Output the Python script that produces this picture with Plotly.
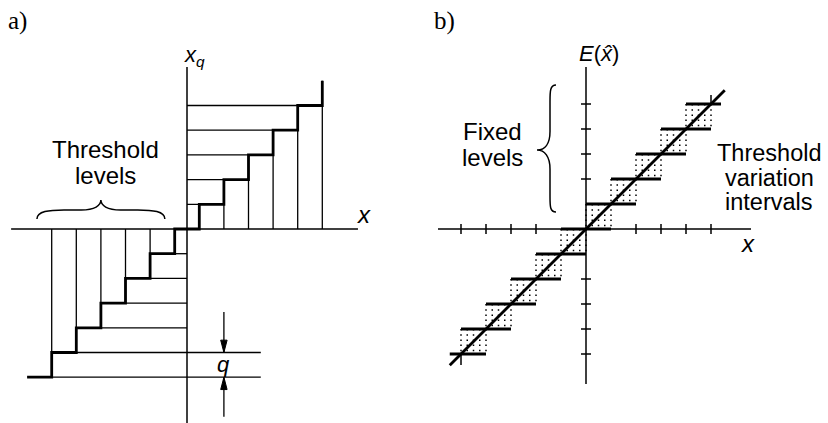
import plotly.graph_objects as go

# ---------------- data ----------------
# panel a: mid-tread uniform quantizer (units of q)
thresholds_a = [-5.5, -4.5, -3.5, -2.5, -1.5, -0.5, 0.5, 1.5, 2.5, 3.5, 4.5, 5.5]
levels_a = [-6, -5, -4, -3, -2, -1, 0, 1, 2, 3, 4, 5, 6]
stair_start_a = -6.5
q_lines_right = 3.0
q_levels = [-5, -6]
q_arrow_x = 1.5
q_arrows = [(-5, -3.36), (-6, -7.6)]   # (tip level, tail)
axis_a_x = [-7.15, 6.95]
axis_a_y = [-8.0, 6.56]

# panel b: expected value with threshold variation
levels_b = [-5, -4, -3, -2, -1, 0, 1, 2, 3, 4, 5]
step_halfwidth_b = 1.0
diag_b = [-5.45, 5.55]
ticks_b = [-5, -4, -3, -2, 2, 3, 4, 5]
box_lows_b = [-5, -4, -3, -2, -1, 0, 1, 2, 3, 4]
box_cols = [0, 0.25, 0.5, 0.75, 1.0]
axis_b_x = [-5.92, 6.6]
axis_b_y = [-6.2, 6.48]
end_marks_b = [(-5, -5.0, -5.44), (5, 5.0, 5.36)]

THICK = 2.8
THIN = 1.3
AX = 1.5
BLACK = "#000"
SANS = "Liberation Sans, Arial, sans-serif"
SERIF = "Liberation Serif, Times New Roman, serif"

fig = go.Figure()


def seg_trace(xs, ys, width, xa="x", ya="y", dash="solid"):
    fig.add_trace(go.Scatter(x=xs, y=ys, mode="lines", xaxis=xa, yaxis=ya,
                             line=dict(color=BLACK, width=width, dash=dash),
                             hoverinfo="skip", showlegend=False))


# ---------- panel a ----------
xs, ys = [], []
for t in thresholds_a:
    if t > 0:
        xs += [t, t, None]; ys += [0, t + 0.5, None]
    else:
        xs += [t, t, None]; ys += [0, t - 0.5, None]
for lv in levels_a:
    if 0 < lv <= 5:
        xs += [0, lv + 0.5, None]; ys += [lv, lv, None]
    elif lv < 0:
        right = q_lines_right if lv in q_levels else 0
        xs += [lv + 0.5, right, None]; ys += [lv, lv, None]
seg_trace(xs, ys, THIN)

seg_trace([axis_a_x[0], axis_a_x[1], None, 0, 0], [0, 0, None, axis_a_y[0], axis_a_y[1]], AX)

sx, sy = [stair_start_a], [levels_a[0]]
for i, t in enumerate(thresholds_a):
    sx += [t, t]; sy += [levels_a[i], levels_a[i + 1]]
seg_trace(sx, sy, THICK)

# q dimension arrows: shafts + heads
ax_, ay_ = [], []
for tip, tail in q_arrows:
    ax_ += [q_arrow_x, q_arrow_x, None]; ay_ += [tail, tip, None]
seg_trace(ax_, ay_, THIN)
for tip, tail in q_arrows:
    d = 0.5 if tail > tip else -0.5
    hw = 0.13
    fig.add_shape(type="path",
                  path=f"M {q_arrow_x},{tip} L {q_arrow_x - hw},{tip + d} "
                       f"L {q_arrow_x + hw},{tip + d} Z",
                  xref="x", yref="y", fillcolor=BLACK, line=dict(color=BLACK, width=1))

# ---------- panel b ----------
dx, dy = [], []
for k in box_lows_b:
    for c in box_cols:
        dx += [k + c, k + c, None]; dy += [k + 1, k, None]
fig.add_trace(go.Scatter(x=dx, y=dy, mode="lines", xaxis="x2", yaxis="y2",
                         line=dict(color=BLACK, width=1.5, dash="1.5px,3.7px"),
                         hoverinfo="skip", showlegend=False))

bx = [axis_b_x[0], axis_b_x[1], None, 0, 0, None]
by = [0, 0, None, axis_b_y[0], axis_b_y[1], None]
for t in ticks_b:
    bx += [t, t, None, -0.2, 0.2, None]
    by += [-0.2, 0.2, None, t, t, None]
for (mx, y0, y1) in end_marks_b:
    bx += [mx, mx, None]; by += [y0, y1, None]
seg_trace(bx, by, AX, "x2", "y2")

hx, hy = [], []
for lv in levels_b:
    x0 = max(lv - step_halfwidth_b, diag_b[0])
    x1 = min(lv + step_halfwidth_b, 5.4)
    hx += [x0, x1, None]; hy += [lv, lv, None]
seg_trace(hx, hy, THICK, "x2", "y2")

seg_trace(diag_b, diag_b, THICK, "x2", "y2")

# ---------- braces ----------
brace_a = ("M -6.1,0.4 C -6.1,0.72 -5.6,0.77 -5.0,0.77 L -4.3,0.77 "
           "C -3.75,0.77 -3.5,0.95 -3.5,1.17 C -3.5,0.95 -3.25,0.77 -2.7,0.77 "
           "L -2.0,0.77 C -1.4,0.77 -0.9,0.72 -0.9,0.4")
brace_b = ("M -1.2,5.76 C -1.44,5.76 -1.44,5.5 -1.44,5.1 L -1.44,3.9 "
           "C -1.44,3.4 -1.65,3.16 -1.96,3.16 C -1.65,3.16 -1.44,2.9 -1.44,2.4 "
           "L -1.44,1.3 C -1.44,0.9 -1.44,0.68 -1.2,0.68")
fig.add_shape(type="path", path=brace_a, xref="x", yref="y",
              line=dict(color=BLACK, width=1.5))
fig.add_shape(type="path", path=brace_b, xref="x2", yref="y2",
              line=dict(color=BLACK, width=1.5))

# ---------- annotations ----------
ann = []


def txt(x, y, s, xref="x", yref="y", size=24, family=SANS, xanchor="center"):
    ann.append(dict(x=x, y=y, xref=xref, yref=yref, text=s, showarrow=False,
                    font=dict(family=family, size=size, color=BLACK),
                    xanchor=xanchor, yanchor="middle"))


txt(17 / 828, 1 - 21 / 423, "a)", "paper", "paper", 25, SERIF)
txt(444 / 828, 1 - 21 / 423, "b)", "paper", "paper", 25, SERIF)

txt(-3.33, 3.2, "Threshold")
txt(-3.33, 2.15, "levels")
txt(7.2, 0.6, "<i>x</i>", size=24)
txt(0.3, 7.0, "<i>x</i><sub><i>q</i></sub>", size=22)
txt(1.5, -5.47, "<i>q</i>", size=22)

txt(0.52, 7.04, "<i>E</i>(<i>x̂</i>)", "x2", "y2", 22)
txt(6.48, -0.56, "<i>x</i>", "x2", "y2", 24)
txt(-3.76, 3.92, "Fixed", "x2", "y2")
txt(-3.76, 2.88, "levels", "x2", "y2")
txt(7.32, 3.04, "Threshold", "x2", "y2", 23.5)
txt(7.32, 2.04, "variation", "x2", "y2", 23.5)
txt(7.32, 1.1, "intervals", "x2", "y2", 23.5)

fig.update_layout(
    width=828, height=423,
    margin=dict(l=0, r=0, t=0, b=0),
    paper_bgcolor="white", plot_bgcolor="white",
    showlegend=False, hovermode=False,
    annotations=ann,
    xaxis=dict(domain=[0, 0.5], range=[-187 / 24.6, 227 / 24.6], visible=False),
    yaxis=dict(domain=[0, 1], range=[-194 / 24.7, 229 / 24.7], visible=False),
    xaxis2=dict(domain=[0.5, 1], range=[-172 / 25, 242 / 25], visible=False),
    yaxis2=dict(domain=[0, 1], range=[-194 / 25, 229 / 25], visible=False, anchor="x2"),
)

fig.write_html("out.html")
